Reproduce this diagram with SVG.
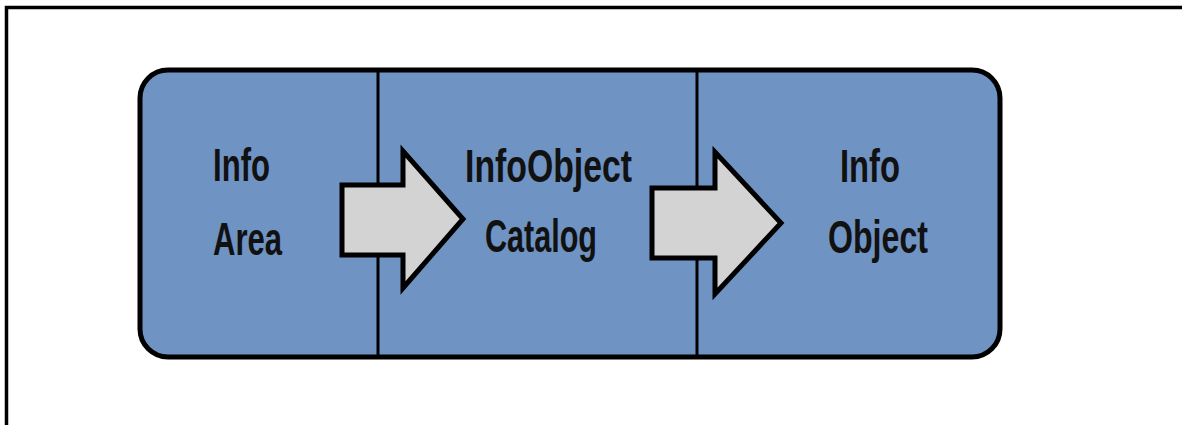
<svg xmlns="http://www.w3.org/2000/svg" width="1182" height="425" viewBox="0 0 1182 425">
  <defs>
    <style>
      .frame { stroke: #000; stroke-width: 3.5; fill: none; }
      .panel { fill: #6f93c3; stroke: #000; stroke-width: 5; }
      .divider { stroke: #000; stroke-width: 3; }
      .arrow { fill: #d3d3d3; stroke: #000; stroke-width: 5; stroke-linejoin: miter; }
      .label { font-family: "Liberation Sans", Arial, sans-serif; font-weight: bold; font-size: 46px; fill: #111; }
    </style>
  </defs>
  <rect width="1182" height="425" fill="#fff"/>
  <!-- page frame -->
  <path class="frame" d="M6.5 425 V7.5 H1182"/>

  <!-- container with three sections -->
  <rect class="panel" x="140" y="70" width="860" height="287" rx="28" ry="28"/>

  <g id="stages">
    <g id="info-area">
      <text class="label" x="213" y="181" textLength="57" lengthAdjust="spacingAndGlyphs">Info</text>
      <text class="label" x="213" y="255" textLength="69" lengthAdjust="spacingAndGlyphs">Area</text>
    </g>
    <g id="infoobject-catalog">
      <text class="label" x="465" y="182" textLength="167" lengthAdjust="spacingAndGlyphs">InfoObject</text>
      <text class="label" x="485" y="252" textLength="112" lengthAdjust="spacingAndGlyphs">Catalog</text>
    </g>
    <g id="info-object">
      <text class="label" x="840" y="182" textLength="60" lengthAdjust="spacingAndGlyphs">Info</text>
      <text class="label" x="828" y="253" textLength="100" lengthAdjust="spacingAndGlyphs">Object</text>
    </g>
  </g>

  <g id="connectors">
    <line class="divider" x1="378" y1="70" x2="378" y2="357"/>
    <line class="divider" x1="697" y1="70" x2="697" y2="357"/>
    <polygon class="arrow" points="342,185 403,185 403,151 463,219 403,288 403,255 342,255"/>
    <polygon class="arrow" points="652,188 715,188 715,152 781,223 715,294 715,258 652,258"/>
  </g>
</svg>
